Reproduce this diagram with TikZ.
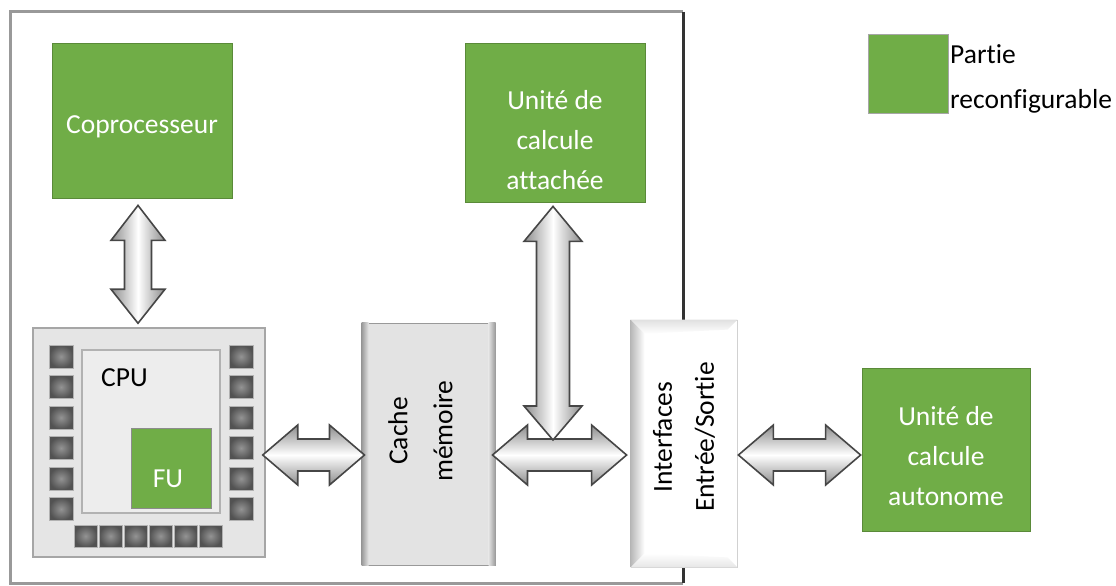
\documentclass[tikz,border=0pt]{standalone}
\usepackage{fontspec}
\setmainfont{Carlito}[Ligatures=NoCommon]
\usetikzlibrary{calc}

\definecolor{cfg}{RGB}{112,173,71}
\definecolor{arrowedge}{RGB}{70,70,70}

% horizontal double block arrow between two tips (#1 left, #2 right)
\newcommand\hblockarrow[2]{%
  \shade[draw=arrowedge, line width=1.6pt, line join=miter,
         top color=black!45, bottom color=black!45, middle color=white]
    (#1) -- ($(#1)+(35,-30)$) -- ($(#1)+(35,-16)$) -- ($(#2)+(-35,-16)$)
    -- ($(#2)+(-35,-30)$) -- (#2) -- ($(#2)+(-35,30)$) -- ($(#2)+(-35,16)$)
    -- ($(#1)+(35,16)$) -- ($(#1)+(35,30)$) -- cycle;}

% vertical double block arrow: #1 top tip, #2 bottom tip, #3 head half width, #4 shaft half width
\newcommand\vblockarrow[4]{%
  \shade[draw=arrowedge, line width=1.6pt, line join=miter,
         left color=black!45, right color=black!45, middle color=white]
    (#1) -- ($(#1)+(#3,35)$) -- ($(#1)+(#4,35)$) -- ($(#2)+(#4,-34)$)
    -- ($(#2)+(#3,-34)$) -- (#2) -- ($(#2)+(-#3,-34)$) -- ($(#2)+(-#4,-34)$)
    -- ($(#1)+(-#4,35)$) -- ($(#1)+(-#3,35)$) -- cycle;}

\tikzset{
  txt/.style={font=\fontsize{27.5}{40}\selectfont, inner sep=0pt},
  cfgbox/.style={fill=cfg, draw=cfg!80!black, line width=0.8pt, inner sep=0pt},
  cfgtxt/.style={txt, text=white, align=center},
  pad/.style={inner color=black!42, outer color=black!68, draw=black!30, line width=0.8pt},
}

\begin{document}
\begin{tikzpicture}[x=1pt, y=-1pt]
\useasboundingbox (0,0) rectangle (1116,586);

% ---- enclosing board frame ----
\draw[black!40, line width=3pt] (683,12) -- (10,12) -- (10,583) -- (683,583);
\draw[black!80, line width=3pt] (683,12) -- (683,583);

% ---- reconfigurable blocks ----
\node[cfgbox, minimum width=180pt, minimum height=155pt] (cop) at (142,120.5) {};
\node[cfgtxt] (coptxt) at ($(cop.center)+(0,6)$) {Coprocesseur};
\node[cfgbox, minimum width=180pt, minimum height=159pt] (att) at (555,122.5) {};
\node[cfgtxt] (atttxt) at ($(att.center)+(0,18)$) {Unité de\\calcule\\attachée};
\node[cfgbox, minimum width=168pt, minimum height=163pt] (auto) at (946,449.5) {};
\node[cfgtxt] (autotxt) at ($(auto.center)+(0,7)$) {Unité de\\calcule\\autonome};

% ---- legend ----
\node[fill=cfg, draw=black!35, line width=0.8pt, minimum width=80pt, minimum height=79pt,
      inner sep=0pt] (legsq) at (908,73.5) {};
\node[txt, anchor=west, align=left,
      font=\fontsize{27.5}{45}\selectfont] (legtxt) at (950,79) {Partie\\reconfigurable};

% ---- CPU chip ----
\node[fill=black!10, draw=black!35, line width=1.5pt, minimum width=232pt,
      minimum height=229pt, inner sep=0pt] (cpu) at (149,442.5) {};
\node[fill=black!7, draw=black!30, line width=1.5pt, minimum width=138pt,
      minimum height=163pt, inner sep=0pt] (core) at (151,431.5) {};
\foreach \i in {0,...,5} {
  \shade[pad] (49,{345+30.5*\i}) rectangle ++(24,23);
  \shade[pad] (229,{345+30.5*\i}) rectangle ++(24,23);
  \shade[pad] ({74+25*\i},525) rectangle ++(23,22);
}
\node[txt, anchor=west] (cputxt) at (101,378) {CPU};
\node[fill=cfg, draw=black!45, line width=1pt, minimum width=80pt, minimum height=80pt,
      inner sep=0pt] (fu) at (171,468) {};
\node[txt, text=white] (futxt) at (168,479) {FU};

% ---- cache ----
\node[fill=black!11, draw=black!40, line width=1pt, minimum width=133pt,
      minimum height=242pt, inner sep=0pt] (cache) at (428.5,444) {};
\shade[left color=black!40, right color=black!11] (cache.north west) rectangle ($(cache.south west)+(7,0)$);
\shade[right color=black!40, left color=black!11] (cache.north east) rectangle ($(cache.south east)+(-7,0)$);
\node[txt, rotate=90, align=center, font=\fontsize{27.5}{45}\selectfont] (cachetxt)
  at ($(cache.center)+(-8,-13)$) {Cache\\mémoire};

% ---- I/O interfaces ----
\node[fill=white, draw=black!18, line width=0.8pt, minimum width=106pt,
      minimum height=247pt, inner sep=0pt] (io) at (684,443.5) {};
\shade[left color=black!28, right color=white]
  (io.north west) -- ($(io.north west)+(14,14)$) -- ($(io.south west)+(14,-14)$) -- (io.south west) -- cycle;
\shade[top color=black!12, bottom color=white]
  (io.north west) -- (io.north east) -- ($(io.north east)+(-10,10)$) -- ($(io.north west)+(14,14)$) -- cycle;
\shade[bottom color=black!10, top color=white]
  (io.south west) -- (io.south east) -- ($(io.south east)+(-10,-10)$) -- ($(io.south west)+(14,-14)$) -- cycle;
\node[txt, rotate=90, align=center, font=\fontsize{27.5}{42}\selectfont] (iotxt)
  at (684,437) {Interfaces\\Entrée/Sortie};

% ---- buses ----
\coordinate (bus) at (0,455);
\hblockarrow{$(cpu.east |- bus)+(-3,0)$}{$(cache.west |- bus)+(3,0)$}
\hblockarrow{$(cache.east |- bus)+(-3,0)$}{$(io.west |- bus)+(-4,0)$}
\hblockarrow{$(io.east |- bus)+(1,0)$}{$(auto.west |- bus)+(-1,0)$}
\vblockarrow{$(cop.south)+(-4,7)$}{$(cpu.north)+(-11,-4)$}{27}{13.5}
\vblockarrow{$(att.south)+(-2,4)$}{$(att.south |- bus)+(-2,-15)$}{29}{16.5}
\end{tikzpicture}
\end{document}
